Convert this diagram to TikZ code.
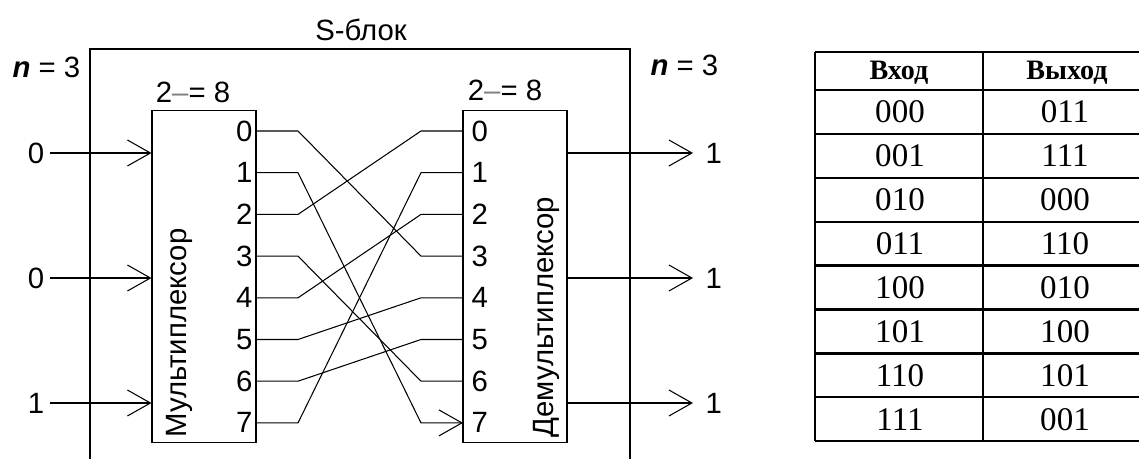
\documentclass[tikz,border=0pt]{standalone}
\usepackage{fontspec}
\setmainfont{Liberation Serif}
\setsansfont{Liberation Sans}
\usetikzlibrary{arrows.meta}

\begin{document}
\begin{tikzpicture}[x=0.02cm, y=-0.02cm, line width=0.6pt,
    lbl/.style={font=\sffamily\fontsize{16.7}{18}\selectfont, inner sep=0pt},
    blockbox/.style={draw, minimum width=2.08cm, minimum height=6.66cm, inner sep=0pt},
    barb/.style={-{Straight Barb[length=0.46cm, width=0.52cm]}},
    cell/.style={font=\fontsize{18.8}{20}\selectfont, inner sep=0pt},
    headcell/.style={font=\bfseries\fontsize{16}{18}\selectfont, inner sep=0pt},
    gridline/.style={line width=1.3pt}]

    \def\pinStep{41.7}

    % Page frame
    \useasboundingbox (0,0) rectangle (1139,459);
    \clip (0,0) rectangle (1139,459);

    % S-block frame, open at the bottom
    \draw (90,470) -- (90,49) -- (630,49) -- (630,470);
    \node[lbl] (title) at (361,30) {S-блок};
    \node[lbl, anchor=west] (nleft) at (12,67) {{\bfseries\itshape n} = 3};
    \node[lbl, anchor=west] (nright) at (650,65) {{\bfseries\itshape n} = 3};

    % Multiplexer and demultiplexer
    \node[blockbox] (mux) at (204,276.5) {};
    \node[blockbox] (demux) at (515,276.5) {};
    \node[lbl, rotate=90, anchor=base west] (muxname) at (186,438) {Мультиплексор};
    \node[lbl, rotate=90, anchor=base west] (demuxname) at (553,438) {Демультиплексор};
    \node[lbl] (muxsize) at (193,92) {2{\color{gray}–}= 8};
    \node[lbl] (demuxsize) at (505,90) {2{\color{gray}–}= 8};

    % Pins 0..7
    \foreach \k in {0,...,7} {
        \pgfmathsetmacro\py{131+\pinStep*\k}
        \coordinate (mo\k) at (256,\py);
        \coordinate (mb\k) at (298,\py);
        \coordinate (db\k) at (421,\py);
        \coordinate (di\k) at (463,\py);
        \node[lbl, anchor=east] (ml\k) at (253,\py) {\k};
        \node[lbl, anchor=west] (dl\k) at (471,\py) {\k};
    }

    % Wiring k -> p(k)
    \foreach \k/\p in {0/3,2/0,3/6,4/2,5/4,6/5,7/1}
        \draw (mo\k) -- (mb\k) -- (db\p) -- (di\p);
    \draw[barb] (mo1) -- (mb1) -- (db7) -- (di7);

    % Input bits
    \foreach \i/\v/\y in {0/0/153,1/0/278,2/1/403} {
        \node[lbl] (bitin\i) at (36,\y) {\v};
        \draw[barb, shorten <=3pt] (bitin\i.east) -- (bitin\i -| mux.west);
    }

    % Output bits
    \foreach \i/\y in {0/153,1/278,2/403} {
        \coordinate (tip\i) at (693,\y);
        \node[lbl, anchor=west] (bitout\i) at (705,\y) {1};
        \draw[barb] (demux.east |- tip\i) -- (tip\i);
    }

    % Substitution table
    \draw[gridline] (815,52) -- (1151,52);
    \foreach \r in {0,...,8}
        \draw[gridline] (815,90+43.9*\r) -- (1151,90+43.9*\r);
    \foreach \x in {815,983,1151}
        \draw[gridline] (\x,52) -- (\x,441.1);
    \node[headcell] (headin) at (899,73) {Вход};
    \node[headcell] (headout) at (1067,73) {Выход};
    \foreach \a/\b [count=\r from 0] in {000/011,001/111,010/000,011/110,100/010,101/100,110/101,111/001} {
        \pgfmathsetmacro\cy{112+43.9*\r}
        \node[cell] (tin\r) at (900,\cy) {\a};
        \node[cell] (tout\r) at (1065,\cy) {\b};
    }

\end{tikzpicture}
\end{document}
